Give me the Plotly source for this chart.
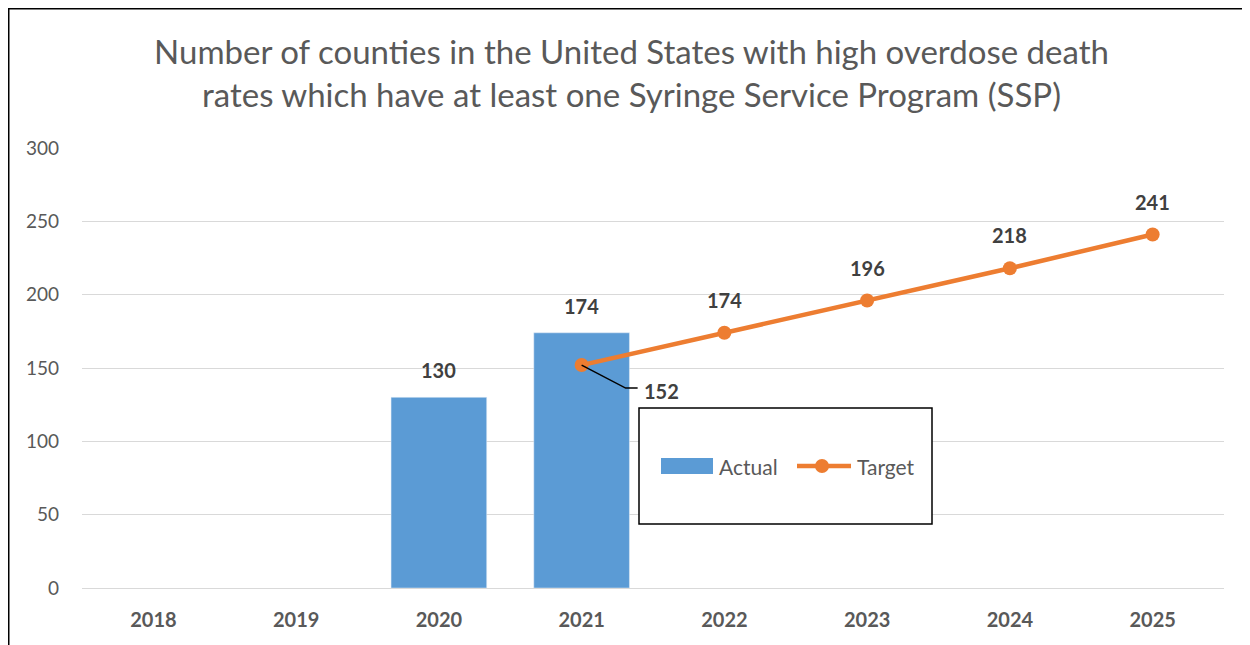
import plotly.graph_objects as go

years = ["2018", "2019", "2020", "2021", "2022", "2023", "2024", "2025"]
actual = [None, None, 130, 174, None, None, None, None]
target = [None, None, None, 152, 174, 196, 218, 241]
title_text = ("Number of counties in the United States with high overdose death<br>"
              "rates which have at least one Syringe Service Program (SSP)")

BLUE = "#5b9bd5"
ORANGE = "#ed7d31"
LABEL = "#404040"
GREY = "#595959"
FONT = "Lato"

W, H = 1242, 637
L, R, T, B = 74, 26, 140, 57
PW, PH = W - L - R, H - T - B


def px(fx):
    return (fx - L) / PW


def py(fy):
    return (T + PH - fy) / PH


idx = list(range(len(years)))

fig = go.Figure()
fig.add_trace(go.Bar(x=idx, y=actual, name="Actual", marker_color=BLUE, width=0.67,
                     showlegend=False))
fig.add_trace(go.Scatter(x=idx, y=target, name="Target", mode="lines+markers",
                         line=dict(color=ORANGE, width=4.5),
                         marker=dict(color=ORANGE, size=14), showlegend=False))

ann = []
for i, v in zip(idx, actual):
    if v is not None:
        ann.append(dict(x=i, y=v, xref="x", yref="y", text=f"<b>{v}</b>", showarrow=False,
                        yshift=27, font=dict(size=20, color=LABEL, family=FONT)))
for i, v in zip(idx, target):
    if v is None:
        continue
    if i == 3:
        ann.append(dict(x=i, y=v, xref="x", yref="y", text=f"<b>{v}</b>", showarrow=False,
                        xanchor="left", xshift=60, yshift=-26,
                        font=dict(size=20, color=LABEL, family=FONT)))
    else:
        ann.append(dict(x=i, y=v, xref="x", yref="y", text=f"<b>{v}</b>", showarrow=False,
                        yshift=33, font=dict(size=20, color=LABEL, family=FONT)))

# manual legend (page coords minus 8px body margin)
ann.append(dict(x=px(709), y=py(458), xref="paper", yref="paper", text="Actual",
                showarrow=False, xanchor="left", yanchor="middle",
                font=dict(size=21, color=GREY, family=FONT)))
ann.append(dict(x=px(847), y=py(458), xref="paper", yref="paper", text="Target",
                showarrow=False, xanchor="left", yanchor="middle",
                font=dict(size=21, color=GREY, family=FONT)))

shapes = [
    # leader line for the 152 label
    dict(type="path", xref="x", yref="y", xsizemode="pixel", ysizemode="pixel",
         xanchor=3, yanchor=target[3], path="M 0,0 L 44,-23 L 56,-23",
         line=dict(color="black", width=1.5)),
    # legend box
    dict(type="rect", xref="paper", yref="paper",
         x0=px(631), x1=px(924), y0=py(516), y1=py(400),
         line=dict(color="black", width=1.5), fillcolor="white", layer="above"),
    # legend swatches
    dict(type="rect", xref="paper", yref="paper",
         x0=px(653), x1=px(705), y0=py(466), y1=py(450),
         line=dict(width=0), fillcolor=BLUE, layer="above"),
    dict(type="line", xref="paper", yref="paper",
         x0=px(789), x1=px(843), y0=py(458), y1=py(458),
         line=dict(color=ORANGE, width=4.5), layer="above"),
    dict(type="circle", xref="paper", yref="paper",
         x0=px(807), x1=px(821), y0=py(465), y1=py(451),
         line=dict(width=0), fillcolor=ORANGE, layer="above"),
    # outer chart border
    dict(type="rect", xref="paper", yref="paper",
         x0=px(0), x1=px(W + 20), y0=py(H + 20), y1=py(0),
         line=dict(color="black", width=3), fillcolor="rgba(0,0,0,0)"),
]

fig.update_layout(
    width=W, height=H,
    margin=dict(l=L, r=R, t=T, b=B),
    paper_bgcolor="white", plot_bgcolor="white",
    font=dict(family=FONT, color=GREY),
    title=dict(text=title_text, x=623.5 / W, xref="container", xanchor="center",
               y=1 - 56 / H, yanchor="middle",
               font=dict(size=33, color=GREY, family=FONT)),
    xaxis=dict(range=[-0.5, 7.5], tickmode="array", tickvals=idx,
               ticktext=[f"<b>{y}</b>" for y in years],
               showgrid=False, showline=False, ticks="", zeroline=False,
               ticklabelstandoff=18,
               tickfont=dict(size=20, color=GREY, family=FONT)),
    yaxis=dict(range=[0, 300], dtick=50, showgrid=True, gridcolor="#d9d9d9", gridwidth=1.3,
               zeroline=True, zerolinecolor="#d9d9d9", zerolinewidth=1.3,
               showline=False, ticks="", ticklabelstandoff=22,
               tickfont=dict(size=19, color=GREY, family=FONT)),
    showlegend=False,
    annotations=ann,
    shapes=shapes,
)

fig.write_html("out.html")
